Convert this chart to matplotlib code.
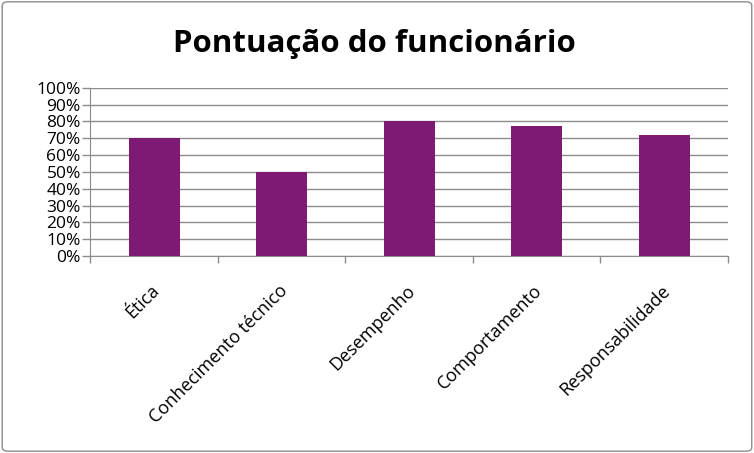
import matplotlib.pyplot as plt
from matplotlib.patches import FancyBboxPatch
from matplotlib.ticker import MultipleLocator, FuncFormatter

categorias = ["Ética", "Conhecimento técnico", "Desempenho", "Comportamento", "Responsabilidade"]
pontuacao = [0.70, 0.50, 0.80, 0.774, 0.718]

cor_barra = "#7E1A73"
cor_grade = "#8C8C8C"

plt.rcParams['font.family'] = ['Open Sans', 'DejaVu Sans']

fig = plt.figure(figsize=(7.54, 4.53), dpi=100)
ax = fig.add_axes([0.120, 0.435, 0.8455, 0.371])

x = list(range(len(categorias)))
ax.bar(x, pontuacao, width=0.4, color=cor_barra, zorder=3)

ax.set_xlim(-0.5, len(categorias) - 0.5)
ax.set_ylim(0, 1.0)
ax.yaxis.set_major_locator(MultipleLocator(0.1))
ax.yaxis.set_major_formatter(FuncFormatter(lambda v, p: f"{v*100:.0f}%"))
ax.grid(axis='y', color=cor_grade, linewidth=1.0, zorder=0)

# ticks nas fronteiras das categorias
ax.set_xticks([i - 0.5 for i in range(len(categorias) + 1)])
ax.set_xticklabels([])
ax.tick_params(axis='x', direction='out', length=5, color=cor_grade, width=1)
ax.tick_params(axis='y', direction='out', length=6, color=cor_grade, width=1,
               labelsize=12.5, pad=1)

for lado in ['top', 'right']:
    ax.spines[lado].set_visible(False)
for lado in ['left', 'bottom']:
    ax.spines[lado].set_color(cor_grade)

for i, nome in enumerate(categorias):
    ax.annotate(nome, xy=(i, 0), xycoords='data', xytext=(2, -23),
                textcoords='offset points', rotation=45, ha='right', va='center',
                rotation_mode='anchor', fontsize=13)

fig.text(0.497, 0.902, "Pontuação do funcionário", ha='center', va='center',
         fontsize=22.5, fontweight='bold')

moldura = FancyBboxPatch((0.003, 0.004), 0.994, 0.992, boxstyle="round,pad=0,rounding_size=0.008",
                         transform=fig.transFigure, fill=False, edgecolor="#8C8C8C", linewidth=1)
fig.patches.append(moldura)

fig.savefig("out.png", dpi=100)
